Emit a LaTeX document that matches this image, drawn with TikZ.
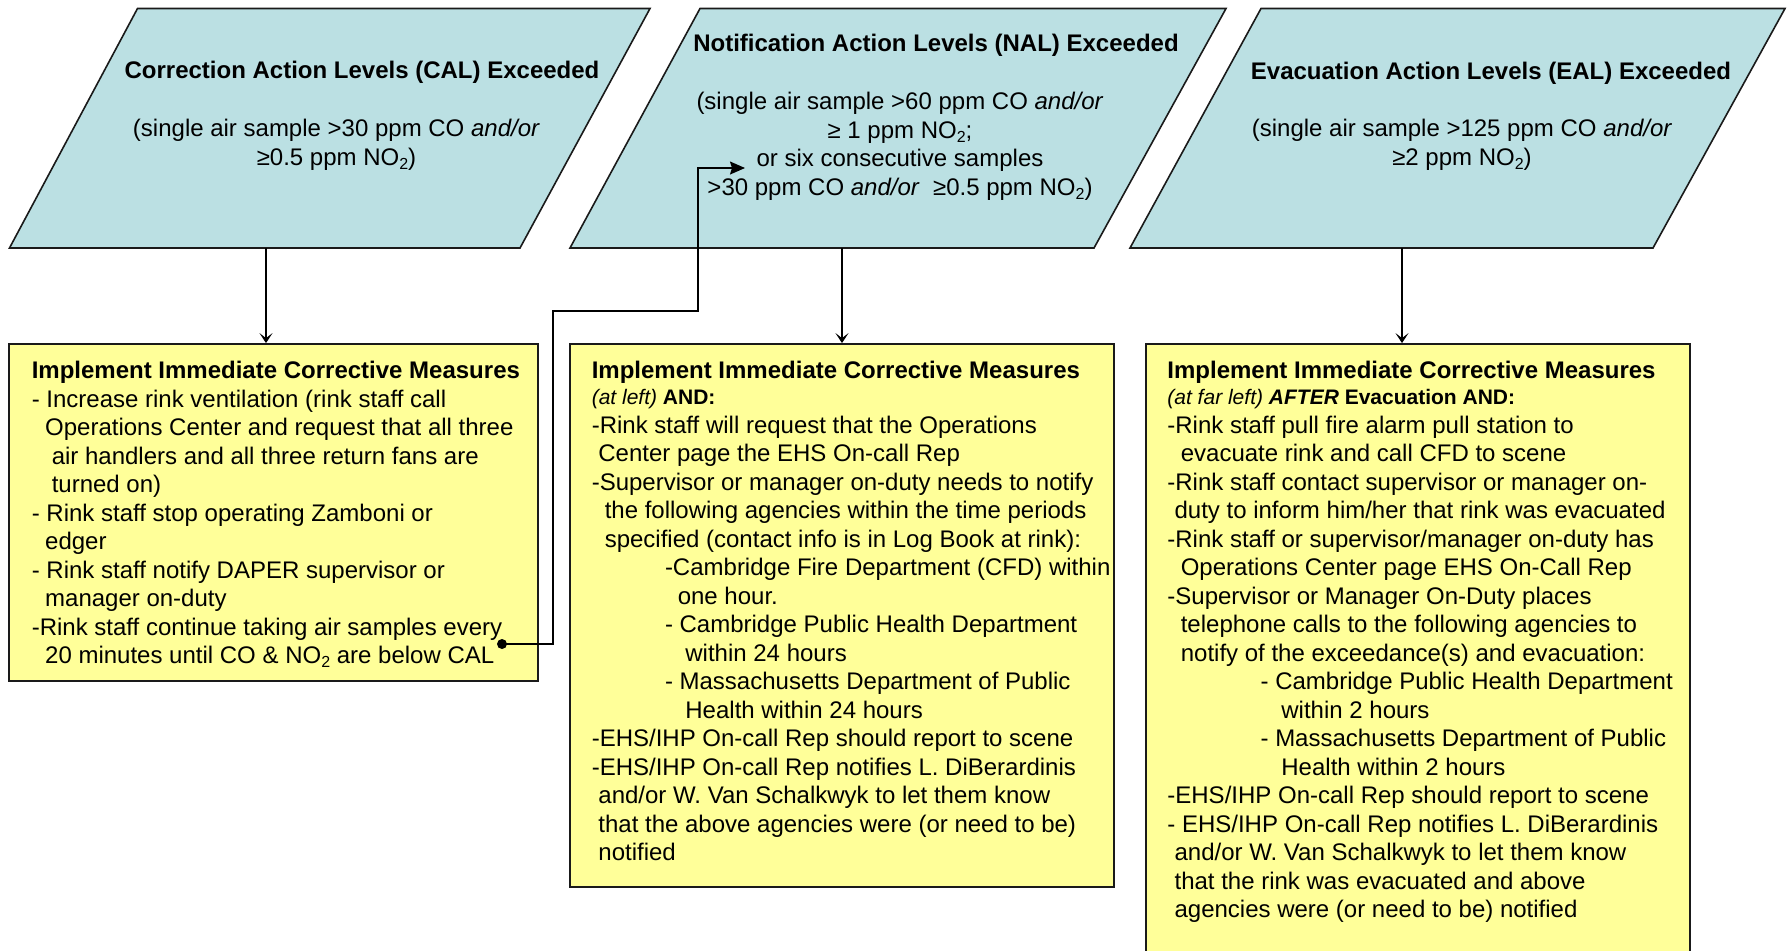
\documentclass[tikz,border=0pt]{standalone}
\usepackage{fontspec}
\setmainfont{Liberation Sans}
\usetikzlibrary{arrows.meta,fit}
\definecolor{parfill}{HTML}{BBE0E3}
\definecolor{boxfill}{HTML}{FFFF99}
\definecolor{edge}{HTML}{1A1A1A}
\newcommand\lefttext[1]{\vtop{\baselineskip=14.25pt\lineskiplimit=-50pt\lineskip=0pt\halign{##\hfil\cr#1\crcr}}}
\newcommand\centertext[1]{\vtop{\baselineskip=14.25pt\lineskiplimit=-50pt\lineskip=0pt\halign{\hfil##\hfil\cr#1\crcr}}}
\newcommand\subtwo{\raisebox{-0.35ex}{\fontsize{8pt}{8pt}\selectfont 2}}
\newcommand\smallline{\fontsize{10.5pt}{12pt}\selectfont}
\tikzset{
  lvlshape/.style={draw=edge, fill=parfill, line width=0.8pt, line join=miter},
  actbox/.style={draw=edge, fill=boxfill, line width=0.9pt, inner sep=0pt},
  txt/.style={inner sep=0pt, font=\fontsize{12pt}{14.25pt}\selectfont},
  ttl/.style={inner sep=0pt, font=\bfseries\fontsize{12pt}{14.25pt}\selectfont},
  link/.style={draw=black, line width=0.65pt},
  smallarrow/.style={link, -{Stealth[length=5pt,width=6.5pt,inset=2.5pt]}},
  bigarrow/.style={link, -{Stealth[length=7.5pt,width=6.5pt,inset=1pt]}},
}
\begin{document}
\begin{tikzpicture}[x=0.5pt,y=-0.5pt]
\useasboundingbox (0,0) rectangle (1788,950);
\clip (0,0) rectangle (1788,950);

% level parallelograms
\draw[lvlshape] (137.5,8.5) -- (650,8.5) -- (520,248) -- (9.5,248) -- cycle;
\draw[lvlshape] (700,8.5) -- (1226,8.5) -- (1094,248) -- (570,248) -- cycle;
\draw[lvlshape] (1261,8.5) -- (1785,8.5) -- (1653,248) -- (1130,248) -- cycle;
\coordinate (p1b) at (266,248);
\coordinate (p2b) at (842,248);
\coordinate (p3b) at (1402,248);

% action boxes
\node[actbox, fit={(9,344) (538,681)}] (b1) {};
\node[actbox, fit={(570,344) (1114,887)}] (b2) {};
\node[actbox, fit={(1146,344) (1690,962)}] (b3) {};

% parallelogram texts
\node[ttl, anchor=base] (t1) at (362,78.5) {Correction Action Levels (CAL) Exceeded};
\node[txt, anchor=base] (s1) at (336.5,136.5) {\centertext{(single air sample >30 ppm CO \textit{and/or}\cr ≥0.5 ppm NO\subtwo)}};

\node[ttl, anchor=base] (t2) at (936,51) {Notification Action Levels (NAL) Exceeded};
\node[txt, anchor=base] (s2) at (900,109.5) {\centertext{(single air sample >60 ppm CO \textit{and/or}\cr ≥ 1 ppm NO\subtwo;\cr or six consecutive samples\cr >30 ppm CO \textit{and/or}\ \ ≥0.5 ppm NO\subtwo)}};

\node[ttl, anchor=base] (t3) at (1491,79) {Evacuation Action Levels (EAL) Exceeded};
\node[txt, anchor=base] (s3) at (1462,136.7) {\centertext{(single air sample >125 ppm CO \textit{and/or}\cr ≥2 ppm NO\subtwo)}};

% box texts
\node[txt, anchor=base west] (bt1) at (31.4,378.5) {\lefttext{\textbf{Implement Immediate Corrective Measures}\cr
- Increase rink ventilation (rink staff call\cr
\hspace*{6.7pt}Operations Center and request that all three\cr
\hspace*{10pt}air handlers and all three return fans are\cr
\hspace*{10pt}turned on)\cr
- Rink staff stop operating Zamboni or\cr
\hspace*{6.7pt}edger\cr
- Rink staff notify DAPER supervisor or\cr
\hspace*{6.7pt}manager on-duty\cr
-Rink staff continue taking air samples every\cr
\hspace*{6.7pt}20 minutes until CO \& NO\subtwo{} are below CAL}};

\node[txt, anchor=base west] (bt2) at (591.4,378.5) {\lefttext{\textbf{Implement Immediate Corrective Measures}\cr
\noalign{\vskip-1.25pt}
{\smallline\textit{(at left)} \textbf{AND:}}\cr
-Rink staff will request that the Operations\cr
\hspace*{3.3pt}Center page the EHS On-call Rep\cr
-Supervisor or manager on-duty needs to notify\cr
\hspace*{6.5pt}the following agencies within the time periods\cr
\hspace*{6.5pt}specified (contact info is in Log Book at rink):\cr
\hspace*{36.6pt}-Cambridge Fire Department (CFD) within\cr
\hspace*{43pt}one hour.\cr
\hspace*{36.6pt}- Cambridge Public Health Department\cr
\hspace*{46.8pt}within 24 hours\cr
\hspace*{36.6pt}- Massachusetts Department of Public\cr
\hspace*{46.8pt}Health within 24 hours\cr
-EHS/IHP On-call Rep should report to scene\cr
-EHS/IHP On-call Rep notifies L. DiBerardinis\cr
\hspace*{3.3pt}and/or W. Van Schalkwyk to let them know\cr
\hspace*{3.3pt}that the above agencies were (or need to be)\cr
\hspace*{3.3pt}notified}};

\node[txt, anchor=base west] (bt3) at (1167,378.5) {\lefttext{\textbf{Implement Immediate Corrective Measures}\cr
\noalign{\vskip-1.25pt}
{\smallline\textit{(at far left)} \textbf{\textit{AFTER}} \textbf{Evacuation AND:}}\cr
-Rink staff pull fire alarm pull station to\cr
\hspace*{6.7pt}evacuate rink and call CFD to scene\cr
-Rink staff contact supervisor or manager on-\cr
\hspace*{3.6pt}duty to inform him/her that rink was evacuated\cr
-Rink staff or supervisor/manager on-duty has\cr
\hspace*{6.7pt}Operations Center page EHS On-Call Rep\cr
-Supervisor or Manager On-Duty places\cr
\hspace*{6.7pt}telephone calls to the following agencies to\cr
\hspace*{6.7pt}notify of the exceedance(s) and evacuation:\cr
\hspace*{46.6pt}- Cambridge Public Health Department\cr
\hspace*{57pt}within 2 hours\cr
\hspace*{46.6pt}- Massachusetts Department of Public\cr
\hspace*{57pt}Health within 2 hours\cr
-EHS/IHP On-call Rep should report to scene\cr
- EHS/IHP On-call Rep notifies L. DiBerardinis\cr
\hspace*{3.6pt}and/or W. Van Schalkwyk to let them know\cr
\hspace*{3.6pt}that the rink was evacuated and above\cr
\hspace*{3.6pt}agencies were (or need to be) notified}};

% connectors
\draw[smallarrow] (p1b) -- (p1b |- b1.north);
\draw[smallarrow] (p2b) -- (p2b |- b2.north);
\draw[smallarrow] (p3b) -- (p3b |- b3.north);

\coordinate (dotc) at (502,644);
\coordinate (k1) at (553,644);
\coordinate (k2) at (553,311);
\coordinate (k3) at (698,311);
\coordinate (k4) at (698,168);
\coordinate (nalin) at (745,168);
\draw[bigarrow] (dotc) -- (k1) -- (k2) -- (k3) -- (k4) -- (nalin);
\fill (dotc) circle[radius=5];
\end{tikzpicture}
\end{document}
